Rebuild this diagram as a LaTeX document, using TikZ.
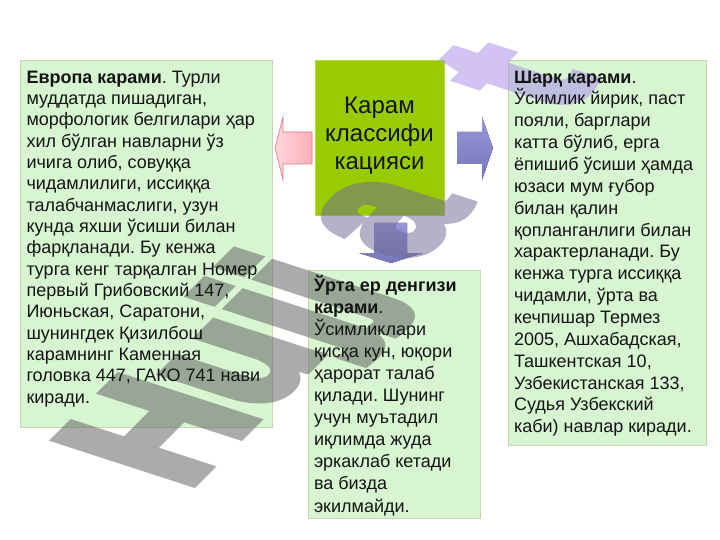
\documentclass[tikz,border=0pt]{standalone}
\usepackage{fontspec}
\setmainfont{Liberation Sans}
\newfontfamily\wmfont[FakeBold=6]{Liberation Sans Bold}
\definecolor{boxgreen}{RGB}{216,245,210}
\definecolor{boxline}{RGB}{205,210,178}
\definecolor{limegreen}{RGB}{153,204,0}
\definecolor{limeline}{RGB}{175,215,80}
\definecolor{txt}{RGB}{20,20,20}
\definecolor{pinkA}{RGB}{255,214,218}
\definecolor{pinkB}{RGB}{255,176,186}
\definecolor{pinkline}{RGB}{228,120,132}
\definecolor{blueA}{RGB}{150,150,215}
\definecolor{blueB}{RGB}{118,118,188}
\definecolor{wmgray}{RGB}{95,95,95}
\definecolor{wma}{RGB}{112,106,150}
\definecolor{wmt}{RGB}{170,140,235}
\frenchspacing
\begin{document}
\begin{tikzpicture}[x=1pt,y=-1pt,
  box/.style={draw=boxline, line width=0.8pt, fill=boxgreen, anchor=north west,
    inner sep=0pt, outer sep=0pt},
  bodytext/.style={anchor=north west, inner sep=0pt, outer sep=0pt, align=left, text=txt},
]
\useasboundingbox (0,0) rectangle (720,540);
\fill[white] (0,0) rectangle (720,540);

% boxes
\node[box, minimum width=252pt, minimum height=367pt] (eur) at (20,60) {};
\node[box, draw=limeline, fill=limegreen, minimum width=129pt, minimum height=155pt] (cls) at (315,60) {};
\node[box, minimum width=198pt, minimum height=385pt] (east) at (508,60) {};
\node[box, minimum width=172pt, minimum height=248pt] (med) at (308,270) {};

% block arrows
\draw[pinkline, line width=0.6pt, left color=pinkA, right color=pinkB]
  (312,132) -- (283,132) -- (283,117) -- (275,148) -- (283,180) -- (283,164) -- (312,164) -- cycle;
\fill[top color=blueA, bottom color=blueB]
  (457,132) -- (482,132) -- (482,117) -- (493,148) -- (482,180) -- (482,164) -- (457,164) -- cycle;
\fill[top color=blueA, bottom color=blueB]
  (374,223) -- (407,223) -- (407,253) -- (423,253) -- (391,263) -- (359,253) -- (374,253) -- cycle;

% watermark
\begin{scope}[transparency group, opacity=0.52]
\begin{scope}[shift={(185,490)}, cm={1.06,1.06,-1.95,0.633,(0,0)}]
\node[transform shape, anchor=base west, inner sep=0pt, outer sep=0pt,
  font=\fontsize{100}{100}\wmfont] (wm) at (0,0)
  {\textcolor{wmgray}{Hujj}\hspace{25pt}\textcolor{wma}{a}\hspace{85pt}\textcolor{wmt}{t}};
\end{scope}
\end{scope}

% texts
\node[bodytext, font=\fontsize{18}{21.35}\selectfont] (eurtxt) at (26.5,65) {%
\rule{0pt}{18pt}\textbf{Европа карами}. Турли\\
муддатда пишадиган,\\
морфологик белгилари ҳар\\
хил бўлган навларни ўз\\
ичига олиб, совуққа\\
чидамлилиги, иссиққа\\
талабчанмаслиги, узун\\
кунда яхши ўсиши билан\\
фарқланади. Бу кенжа\\
турга кенг тарқалган Номер\\
первый Грибовский 147,\\
Июньская, Саратони,\\
шунингдек Қизилбош\\
карамнинг Каменная\\
головка 447, ГАКО 741 нави\\
киради.};

\node[anchor=north, inner sep=0pt, outer sep=0pt, align=center, text=txt,
  font=\fontsize{24}{28.3}\selectfont] (clstxt) at (379.5,89.3) {%
\rule{0pt}{24pt}Карам\\классифи\\кацияси};

\node[bodytext, font=\fontsize{18}{21.86}\selectfont] (easttxt) at (514,65) {%
\rule{0pt}{18pt}\textbf{Шарқ карами}.\\
Ўсимлик йирик, паст\\
пояли, барглари\\
катта бўлиб, ерга\\
ёпишиб ўсиши ҳамда\\
юзаси мум ғубор\\
билан қалин\\
қопланганлиги билан\\
характерланади. Бу\\
кенжа турга иссиққа\\
чидамли, ўрта ва\\
кечпишар Термез\\
2005, Ашхабадская,\\
Ташкентская 10,\\
Узбекистанская 133,\\
Судья Узбекский\\
каби) навлар киради.};

\node[bodytext, font=\fontsize{18}{22.1}\selectfont] (medtxt) at (314,273) {%
\rule{0pt}{18pt}\textbf{Ўрта ер денгизи}\\
\textbf{карами}.\\
Ўсимликлари\\
қисқа кун, юқори\\
ҳарорат талаб\\
қилади. Шунинг\\
учун муътадил\\
иқлимда жуда\\
эркаклаб кетади\\
ва бизда\\
экилмайди.};
\end{tikzpicture}
\end{document}
